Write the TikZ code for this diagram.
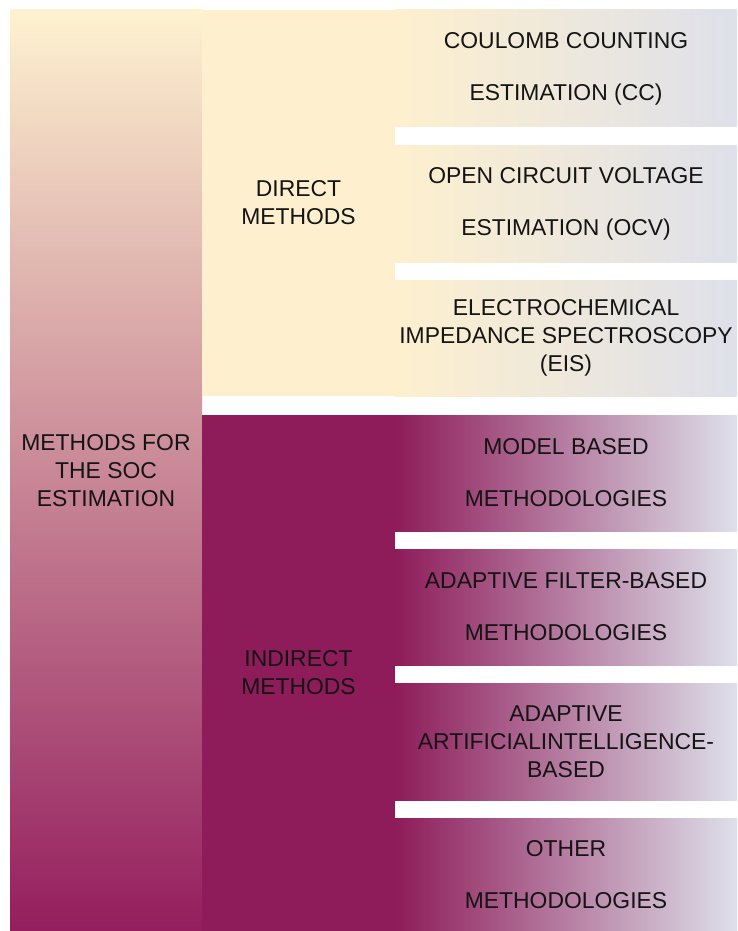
\documentclass[tikz,border=0pt]{standalone}
\usepackage{fontspec}
\setmainfont{Liberation Sans}
\definecolor{cream}{RGB}{254,240,206}
\definecolor{creamtop}{RGB}{254,242,208}
\definecolor{plum}{RGB}{142,28,90}
\definecolor{plumlow}{RGB}{148,30,94}
\definecolor{mist}{RGB}{222,224,234}
\definecolor{ink}{RGB}{20,20,20}
\tikzset{
  box/.style={inner sep=0pt, outer sep=0pt, anchor=north west, align=center,
    text=ink, font=\fontsize{22.9}{28}\selectfont},
  leaf/.style={box, minimum width=342pt},
  directleaf/.style={leaf, left color=cream, right color=mist},
  indirectleaf/.style={leaf, left color=plum, right color=mist},
}
\begin{document}
\begin{tikzpicture}[x=1pt, y=-1pt]
  \useasboundingbox (0,0) rectangle (737,931);
  % root category
  \node[box, minimum width=192pt, minimum height=921pt,
        top color=creamtop, bottom color=plumlow] (soc) at (10,10)
        {METHODS FOR\\THE SOC\\ESTIMATION};
  % two families
  \node[box, fill=cream, minimum width=193pt, minimum height=386pt] (direct) at (202,10)
        {DIRECT\\METHODS};
  \node[box, fill=plum, minimum width=193pt, minimum height=516pt] (indirect) at (202,415)
        {INDIRECT\\METHODS};
  % direct methods
  \node[directleaf, minimum height=117pt] (cc) at (395,10)
        {COULOMB COUNTING\\[24pt]ESTIMATION (CC)};
  \node[directleaf, minimum height=117pt] (ocv) at (395,145)
        {OPEN CIRCUIT VOLTAGE\\[24pt]ESTIMATION (OCV)};
  \node[directleaf, minimum height=116pt] (eis) at (395,280)
        {ELECTROCHEMICAL\\IMPEDANCE SPECTROSCOPY\\(EIS)};
  % indirect methods
  \node[indirectleaf, minimum height=116pt] (model) at (395,415)
        {MODEL BASED\\[24pt]METHODOLOGIES};
  \node[indirectleaf, minimum height=116pt] (filter) at (395,549)
        {ADAPTIVE FILTER-BASED\\[24pt]METHODOLOGIES};
  \node[indirectleaf, minimum height=117pt] (ai) at (395,683)
        {ADAPTIVE\\ARTIFICIALINTELLIGENCE-\\BASED};
  \node[indirectleaf, minimum height=113pt] (other) at (395,818)
        {OTHER\\[24pt]METHODOLOGIES};
\end{tikzpicture}
\end{document}
